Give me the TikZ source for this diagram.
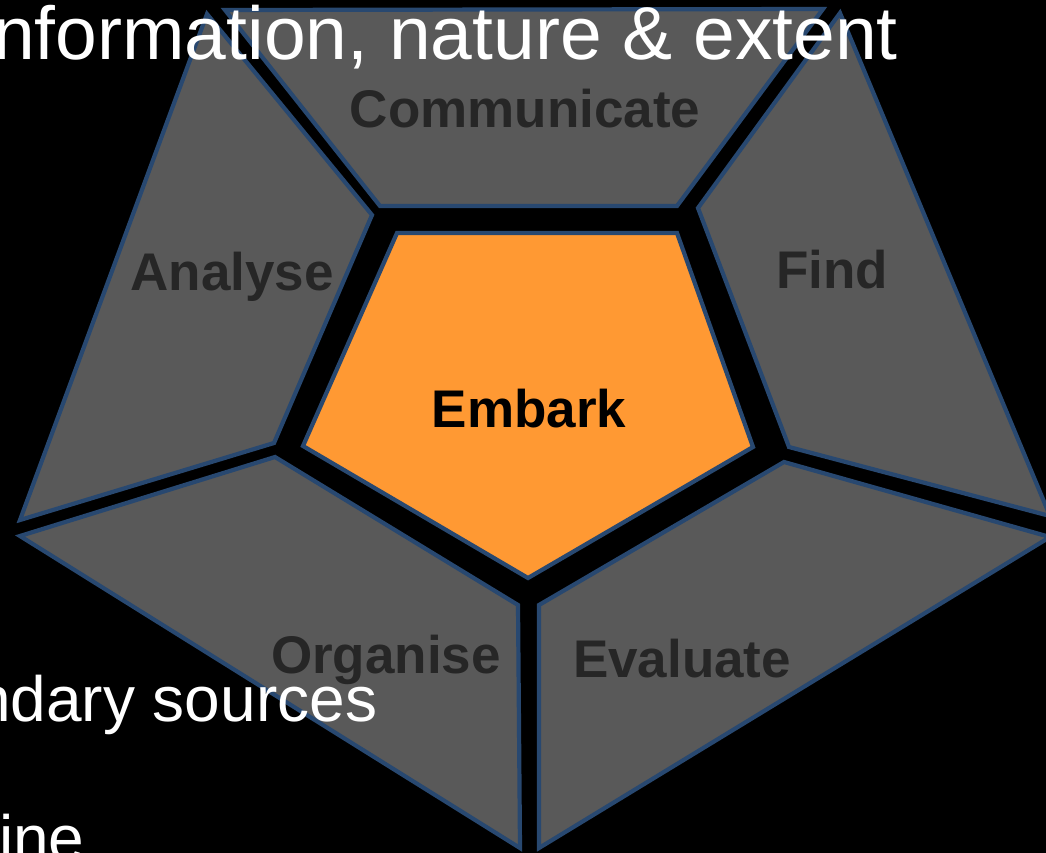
\documentclass[tikz,border=0pt]{standalone}
\usepackage{fontspec}
\setmainfont{Liberation Sans}
\definecolor{segfill}{HTML}{595959}
\definecolor{segline}{HTML}{284870}
\definecolor{labtext}{HTML}{262626}
\definecolor{embfill}{HTML}{FF9933}
\tikzset{
  seg/.style={fill=segfill, draw=segline, line width=4.2pt, line join=miter},
  hub/.style={fill=embfill, draw=segline, line width=4.2pt, line join=miter},
  lab/.style={text=labtext, font=\bfseries\fontsize{53}{60}\selectfont, inner sep=0pt, anchor=base},
  hublab/.style={text=black, font=\bfseries\fontsize{53}{60}\selectfont, inner sep=0pt, anchor=base},
  bulletA/.style={text=white, font=\fontsize{75}{80}\selectfont, inner sep=0pt, anchor=base west},
  bulletB/.style={text=white, font=\fontsize{64}{70}\selectfont, inner sep=0pt, anchor=base west}
}
\begin{document}
\begin{tikzpicture}[x=1pt,y=-1pt]
  \useasboundingbox (0,0) rectangle (1046,853);
  \fill[black] (0,0) rectangle (1046,853);
  \clip (0,0) rectangle (1046,853);
  % segments
  \draw[seg] (225,10) -- (823,9) -- (677,206) -- (380,206) -- cycle;
  \draw[seg] (207,14) -- (372,215) -- (274,443) -- (20,520) -- cycle;
  \draw[seg] (840,13) -- (1050,516) -- (789,447) -- (698,208) -- cycle;
  \draw[seg] (784,462) -- (1050,537) -- (539,848) -- (539,605) -- cycle;
  \draw[seg] (275,457) -- (518,605) -- (520,848) -- (20,536) -- cycle;
  \draw[hub] (397,233) -- (677,233) -- (753,447) -- (528,578) -- (303,446) -- cycle;
  % labels
  \node[lab] (communicate) at (525,128) {Communicate};
  \node[lab] (analyse) at (232,290) {Analyse};
  \node[lab] (find) at (832,288) {Find};
  \node[hublab] (embark) at (529,427) {Embark};
  \node[lab] (organise) at (386,673) {Organise};
  \node[lab] (evaluate) at (682,677) {Evaluate};
  % background slide text
  \node[bulletA] (line1) at (-7,60) {nformation, nature \& extent};
  \node[bulletB] (line2) at (-25,721) {ndary sources};
  \node[bulletB] (line3) at (-1,860) {ine};
\end{tikzpicture}
\end{document}
